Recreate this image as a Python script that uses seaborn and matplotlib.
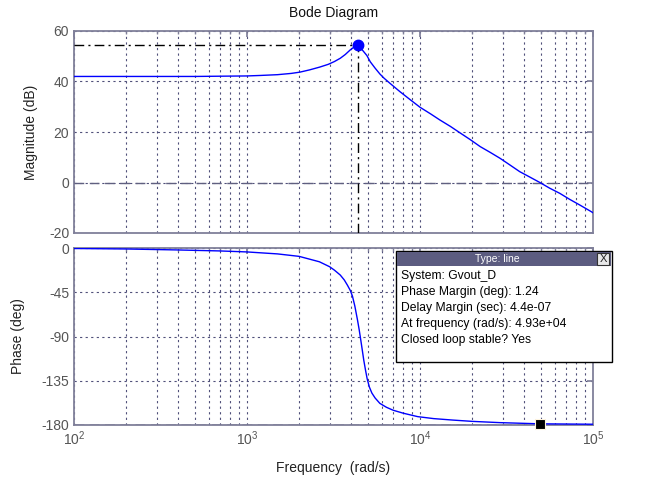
import matplotlib
matplotlib.use("Agg")
import matplotlib.pyplot as plt
import matplotlib.patches as mpatches
from matplotlib.ticker import LogLocator, FixedLocator, NullFormatter
import seaborn as sns
import pandas as pd

# ---- data ----
mag_freq = [100, 200, 500, 700, 1000, 1200, 1500, 1800, 2020, 2300, 2630, 2950, 3200, 3460,
            3700, 3950, 4150, 4380, 4600, 4930, 5160, 5500, 5860, 6200, 6700, 7650,
            8700, 10000, 11500, 13000, 15000, 17000, 19500, 22300, 25500, 29000,
            33000, 37700, 43000, 49300, 56000, 64300, 73000, 83800, 98000, 100000]
mag_db = [42.0, 42.0, 42.0, 42.1, 42.2, 42.4, 42.7, 43.2, 43.7, 44.6, 45.7, 46.8, 47.9, 49.2,
          50.7, 52.5, 53.6, 54.6, 52.8, 50.3, 47.8, 45.3, 43.0, 41.3, 39.3, 36.0,
          33.0, 29.8, 27.2, 24.8, 22.2, 19.7, 17.0, 14.2, 11.9, 9.6,
          7.0, 4.3, 2.2, 0.0, -2.2, -4.3, -6.6, -8.9, -11.6, -12.0]

ph_freq = [100, 200, 400, 700, 1000, 1500, 2000, 2620, 3000, 3200, 3460, 3650, 3800,
           3950, 4070, 4200, 4350, 4450, 4550, 4640, 4730, 4840, 4950, 5100, 5270,
           5500, 5860, 6400, 7000, 8000, 9700, 12000, 15500, 20000, 29000,
           49300, 98000, 100000]
ph_deg = [-0.5, -1.0, -2.0, -3.0, -4.0, -6.0, -8.5, -14.0, -19.0, -22.5, -27.5, -32.5, -37.6,
          -43.0, -49.0, -59.0, -73.0, -83.0, -94.0, -104.0, -114.0, -124.0, -133.0, -141.5, -147.5,
          -152.5, -158.0, -162.0, -165.0, -168.0, -171.5, -173.5, -175.0, -176.3, -177.6,
          -178.8, -179.2, -179.2]

peak_freq = 4380
peak_db = 54.6
pm_freq = 4.93e4
pm_phase = -178.76

mag_ticks = [-20, 0, 20, 40, 60]
ph_ticks = [-180, -135, -90, -45, 0]

tip_lines = ["System: Gvout_D",
             "Phase Margin (deg): 1.24",
             "Delay Margin (sec): 4.4e-07",
             "At frequency (rad/s): 4.93e+04",
             "Closed loop stable? Yes"]

# ---- style ----
sns.set_theme(style="white")
plt.rcParams['font.family'] = ['Liberation Sans', 'DejaVu Sans']
plt.rcParams['mathtext.fontset'] = 'custom'
plt.rcParams['mathtext.rm'] = 'Liberation Sans'
plt.rcParams['axes.unicode_minus'] = False

W, H = 645, 483
fig = plt.figure(figsize=(W / 100, H / 100), dpi=100)
fig.patch.set_facecolor('white')

def fx(px):
    return px / W

def fy(py):
    return 1 - py / H

L, R = 74, 593
ax1 = fig.add_axes([fx(L), fy(233), fx(R) - fx(L), fy(31) - fy(233)])
ax2 = fig.add_axes([fx(L), fy(425), fx(R) - fx(L), fy(248) - fy(425)])

frame_c = '#80809a'
grid_c = '#50507a'
tick_c = '#555555'

df_mag = pd.DataFrame({'freq': mag_freq, 'mag': mag_db})
df_ph = pd.DataFrame({'freq': ph_freq, 'phase': ph_deg})

sns.lineplot(data=df_mag, x='freq', y='mag', ax=ax1, color='#0000ff', lw=1.0, zorder=5)
sns.lineplot(data=df_ph, x='freq', y='phase', ax=ax2, color='#0000ff', lw=1.0, zorder=5)

for ax in (ax1, ax2):
    ax.set_xscale('log')
    ax.set_xlim(1e2, 1e5)
    ax.xaxis.set_major_locator(LogLocator(base=10, numticks=10))
    ax.xaxis.set_minor_locator(LogLocator(base=10, subs=range(2, 10), numticks=20))
    ax.xaxis.set_minor_formatter(NullFormatter())
    ax.grid(True, which='major', axis='both', color=grid_c, linestyle=(0, (2, 3)), lw=0.8)
    ax.grid(True, which='minor', axis='x', color=grid_c, linestyle=(0, (2, 3)), lw=0.8)
    for s in ax.spines.values():
        s.set_color(frame_c)
        s.set_linewidth(1.3)
    ax.tick_params(which='both', direction='in', top=True, right=True, colors=frame_c,
                   labelcolor=tick_c, labelsize=10)
    ax.tick_params(which='major', length=4)
    ax.tick_params(which='minor', length=2)
    ax.set_facecolor('white')

ax1.set_ylim(-20, 60)
ax1.yaxis.set_major_locator(FixedLocator(mag_ticks))
ax1.set_xticklabels([])
ax1.set_xlabel('')
ax1.set_ylabel('Magnitude (dB)', fontsize=10, color='#222222')
ax1.yaxis.set_label_coords((38 - L) / (R - L), 0.5)

ax2.set_ylim(-180, 0)
ax2.yaxis.set_major_locator(FixedLocator(ph_ticks))
ax2.set_ylabel('Phase (deg)', fontsize=10, color='#222222')
ax2.yaxis.set_label_coords((25 - L) / (R - L), 0.5)
ax2.set_xlabel('Frequency  (rad/s)', fontsize=10, color='#222222')
ax2.xaxis.set_label_coords(0.5, -36 / 177)

# reference lines
ax1.axhline(0, color='#606080', lw=1.0, linestyle=(0, (7, 4)), zorder=3)
ax2.axhline(-180, color='#606080', lw=1.0, linestyle=(0, (7, 4)), zorder=3)

# peak crosshair
ax1.plot([1e2, peak_freq], [peak_db, peak_db], color='black', lw=1.0,
         linestyle=(0, (7, 3, 1.5, 3)), zorder=4)
ax1.plot([peak_freq, peak_freq], [-20, peak_db], color='black', lw=1.0,
         linestyle=(0, (7, 3, 1.5, 3)), zorder=4)
ax1.plot([peak_freq], [peak_db], 'o', color='#0000ff', ms=7.5, zorder=6, clip_on=False)

# phase margin marker
ax2.plot([pm_freq], [pm_phase], 's', color='black', mec='#fff5e0', mew=0.8, ms=7,
         zorder=7, clip_on=False)

# title
fig.text(fx(333.5), fy(13), 'Bode Diagram', ha='center', va='center', fontsize=10,
         color='#111111')

# data tip box
bx0, bx1, by0, by1 = 396, 612, 251, 362
fig.add_artist(mpatches.Rectangle((fx(bx0), fy(by1)), fx(bx1) - fx(bx0), fy(by0) - fy(by1),
                                  transform=fig.transFigure, facecolor='white',
                                  edgecolor='black', lw=1.0, zorder=20))
fig.add_artist(mpatches.Rectangle((fx(bx0 + 1), fy(266)), fx(bx1 - 1) - fx(bx0 + 1),
                                  fy(by0 + 1) - fy(266), transform=fig.transFigure,
                                  facecolor='#5c5c80', edgecolor='none', zorder=21))
fig.add_artist(mpatches.Rectangle((fx(597), fy(265)), fx(609) - fx(597), fy(253) - fy(265),
                                  transform=fig.transFigure, facecolor='#e8e8e8',
                                  edgecolor='#333333', lw=0.8, zorder=22))
fig.text(fx(603), fy(259), 'X', ha='center', va='center', fontsize=8, color='#222222',
         zorder=23)
fig.text(fx(497), fy(258.5), 'Type: line', ha='center', va='center', fontsize=7.5,
         color='white', zorder=23)
for i, t in enumerate(tip_lines):
    fig.text(fx(401), fy(276 + 16 * i), t, ha='left', va='center', fontsize=8.7,
             color='black', zorder=23)

fig.savefig('out.png', dpi=100, facecolor='white')
